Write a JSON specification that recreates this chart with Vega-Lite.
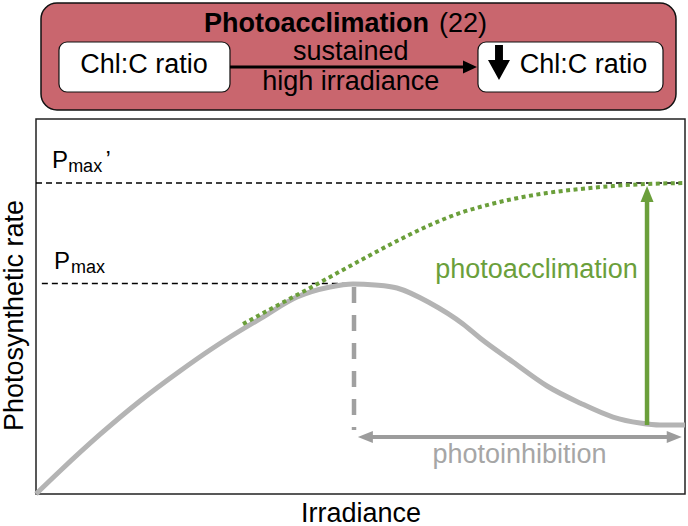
{
  "$schema": "https://vega.github.io/schema/vega-lite/v6.json",
  "width": 649,
  "height": 375,
  "autosize": {"type": "none"},
  "padding": {"left": 36, "top": 119, "right": 3, "bottom": 32},
  "background": "white",
  "config": {
    "view": {"stroke": "#222222", "strokeWidth": 1.5},
    "font": "Liberation Sans"
  },
  "datasets": {
    "frame": [{"x": 0.77, "x2": 98.61, "y": 130.93, "y2": 102.4}],
    "boxes": [
      {"x": 3.54, "x2": 29.89, "y": 120.53, "y2": 107.2},
      {"x": 68.1, "x2": 96.61, "y": 120.53, "y2": 107.2}
    ],
    "flow": [{"x": 29.89, "x2": 66.3, "y": 113.87}],
    "flowHead": [{"x": 67.95, "y": 113.87}],
    "down": [{"x": 71.34, "y": 115.07}],
    "titleBold": [{"x": 60.55, "y": 123.2, "text": "Photoacclimation"}],
    "titleRef": [{"x": 62.1, "y": 123.2, "text": "(22)"}],
    "condition": [
      {"x": 48.5, "y": 115.73, "text": "sustained"},
      {"x": 48.5, "y": 107.73, "text": "high irradiance"}
    ],
    "ratio": [
      {"x": 16.64, "y": 112.27, "text": "Chl:C ratio"},
      {"x": 84.36, "y": 112.27, "text": "Chl:C ratio"}
    ],
    "pmaxLines": [
      {"x": 0, "x2": 100, "y": 82.93},
      {"x": 0.9, "x2": 47.6, "y": 56.13}
    ],
    "pLetters": [
      {"x": 2.47, "y": 86.99, "text": "P"},
      {"x": 2.77, "y": 60.0, "text": "P"}
    ],
    "maxSub": [
      {"x": 4.95, "y": 85.95, "text": "max"},
      {"x": 5.4, "y": 58.93, "text": "max"}
    ],
    "prime": [{"x": 10.7, "y": 86.99, "text": "’"}],
    "baseCurve": [
      {"x": 0, "y": 0},
      {"x": 3.7, "y": 6.13},
      {"x": 9.86, "y": 15.87},
      {"x": 16.02, "y": 24.8},
      {"x": 22.19, "y": 32.8},
      {"x": 26.81, "y": 38.4},
      {"x": 29.89, "y": 41.87},
      {"x": 34.98, "y": 47.2},
      {"x": 40.22, "y": 52.53},
      {"x": 45.3, "y": 55.2},
      {"x": 48.84, "y": 56.0},
      {"x": 52.23, "y": 55.73},
      {"x": 55.62, "y": 54.93},
      {"x": 60.71, "y": 50.93},
      {"x": 65.79, "y": 45.33},
      {"x": 68.41, "y": 41.6},
      {"x": 73.5, "y": 35.2},
      {"x": 78.74, "y": 28.8},
      {"x": 83.82, "y": 24.27},
      {"x": 88.91, "y": 20.53},
      {"x": 93.07, "y": 18.93},
      {"x": 96.15, "y": 18.4},
      {"x": 100, "y": 18.4}
    ],
    "acclimCurve": [
      {"x": 31.9, "y": 45.33},
      {"x": 37.6, "y": 50.67},
      {"x": 42.22, "y": 54.93},
      {"x": 45.3, "y": 57.87},
      {"x": 50.39, "y": 62.67},
      {"x": 55.62, "y": 67.47},
      {"x": 60.71, "y": 71.73},
      {"x": 65.79, "y": 75.2},
      {"x": 68.41, "y": 76.53},
      {"x": 73.5, "y": 78.67},
      {"x": 78.74, "y": 80.27},
      {"x": 83.82, "y": 81.33},
      {"x": 88.91, "y": 82.13},
      {"x": 94.15, "y": 82.67},
      {"x": 100, "y": 82.93}
    ],
    "peakDrop": [{"x": 49.0, "y": 55.2, "y2": 17.07}],
    "inhibShaft": [{"x": 51.0, "x2": 98.0, "y": 15.2}],
    "inhibHeadL": [{"x": 49.6, "y": 15.2}],
    "inhibHeadR": [{"x": 99.5, "y": 15.2}],
    "acclimShaft": [{"x": 94.15, "y": 18.4, "y2": 79.0}],
    "acclimHead": [{"x": 94.15, "y": 82.13}],
    "acclimLabel": [{"x": 77.13, "y": 57.6, "text": "photoacclimation"}],
    "inhibLabel": [{"x": 74.5, "y": 8.27, "text": "photoinhibition"}]
  },
  "encoding": {
    "x": {
      "field": "x",
      "type": "quantitative",
      "scale": {"domain": [0, 100], "nice": false, "zero": false},
      "axis": {
        "title": "Irradiance",
        "domain": false, "ticks": false, "labels": false, "grid": false,
        "titleFont": "Liberation Sans", "titleFontSize": 27, "titleFontWeight": "normal",
        "titleColor": "black", "titlePadding": 6
      }
    },
    "y": {
      "field": "y",
      "type": "quantitative",
      "scale": {"domain": [0, 100], "nice": false, "zero": false},
      "axis": {
        "title": "Photosynthetic rate",
        "domain": false, "ticks": false, "labels": false, "grid": false,
        "titleFont": "Liberation Sans", "titleFontSize": 27, "titleFontWeight": "normal",
        "titleColor": "black", "titlePadding": 8, "titleY": 196
      }
    }
  },
  "layer": [
    {
      "data": {"name": "frame"},
      "mark": {"type": "rect", "fill": "#c9666e", "stroke": "#111111", "strokeWidth": 1.5, "cornerRadius": 16},
      "encoding": {"x2": {"field": "x2"}, "y2": {"field": "y2"}}
    },
    {
      "data": {"name": "boxes"},
      "mark": {"type": "rect", "fill": "white", "stroke": "#111111", "strokeWidth": 1.2, "cornerRadius": 8},
      "encoding": {"x2": {"field": "x2"}, "y2": {"field": "y2"}}
    },
    {
      "data": {"name": "flow"},
      "mark": {"type": "rule", "color": "black", "strokeWidth": 3},
      "encoding": {"x2": {"field": "x2"}}
    },
    {
      "data": {"name": "flowHead"},
      "mark": {"type": "point", "shape": "M0,0 L-2.8,-1.3 L-2.8,1.3 Z", "size": 100, "filled": true, "color": "black", "opacity": 1}
    },
    {
      "data": {"name": "down"},
      "mark": {"type": "point", "shape": "M-0.36,-1.59 L0.36,-1.59 L0.36,-0.23 L1,-0.23 L0,1.59 L-1,-0.23 L-0.36,-0.23 Z", "size": 484, "filled": true, "color": "black", "opacity": 1}
    },
    {
      "data": {"name": "titleBold"},
      "mark": {"type": "text", "font": "Liberation Sans", "fontSize": 27, "fontWeight": "bold", "align": "right", "baseline": "alphabetic", "color": "black"},
      "encoding": {"text": {"field": "text"}}
    },
    {
      "data": {"name": "titleRef"},
      "mark": {"type": "text", "font": "Liberation Sans", "fontSize": 27, "align": "left", "baseline": "alphabetic", "color": "black"},
      "encoding": {"text": {"field": "text"}}
    },
    {
      "data": {"name": "condition"},
      "mark": {"type": "text", "font": "Liberation Sans", "fontSize": 27, "align": "center", "baseline": "alphabetic", "color": "black"},
      "encoding": {"text": {"field": "text"}}
    },
    {
      "data": {"name": "ratio"},
      "mark": {"type": "text", "font": "Liberation Sans", "fontSize": 27, "align": "center", "baseline": "alphabetic", "color": "black"},
      "encoding": {"text": {"field": "text"}}
    },
    {
      "data": {"name": "pmaxLines"},
      "mark": {"type": "rule", "color": "black", "strokeWidth": 1.3, "strokeDash": [6, 4]},
      "encoding": {"x2": {"field": "x2"}}
    },
    {
      "data": {"name": "pLetters"},
      "mark": {"type": "text", "font": "Liberation Sans", "fontSize": 24, "align": "left", "baseline": "alphabetic", "color": "black"},
      "encoding": {"text": {"field": "text"}}
    },
    {
      "data": {"name": "maxSub"},
      "mark": {"type": "text", "font": "Liberation Sans", "fontSize": 18, "align": "left", "baseline": "alphabetic", "color": "black"},
      "encoding": {"text": {"field": "text"}}
    },
    {
      "data": {"name": "prime"},
      "mark": {"type": "text", "font": "Liberation Sans", "fontSize": 24, "align": "left", "baseline": "alphabetic", "color": "black"},
      "encoding": {"text": {"field": "text"}}
    },
    {
      "data": {"name": "peakDrop"},
      "mark": {"type": "rule", "color": "#a0a0a0", "strokeWidth": 4.5, "strokeDash": [16, 12]},
      "encoding": {"y2": {"field": "y2"}}
    },
    {
      "data": {"name": "baseCurve"},
      "mark": {"type": "line", "color": "#b4b4b4", "strokeWidth": 5, "interpolate": "monotone"}
    },
    {
      "data": {"name": "acclimCurve"},
      "mark": {"type": "line", "color": "#6b9f3b", "strokeWidth": 4, "strokeDash": [4, 3.5], "interpolate": "monotone"}
    },
    {
      "data": {"name": "inhibShaft"},
      "mark": {"type": "rule", "color": "#9c9c9c", "strokeWidth": 4},
      "encoding": {"x2": {"field": "x2"}}
    },
    {
      "data": {"name": "inhibHeadL"},
      "mark": {"type": "point", "shape": "M0,0 L3,-1.2 L3,1.2 Z", "size": 100, "filled": true, "color": "#9c9c9c", "opacity": 1}
    },
    {
      "data": {"name": "inhibHeadR"},
      "mark": {"type": "point", "shape": "M0,0 L-3,-1.2 L-3,1.2 Z", "size": 100, "filled": true, "color": "#9c9c9c", "opacity": 1}
    },
    {
      "data": {"name": "acclimShaft"},
      "mark": {"type": "rule", "color": "#6b9f3b", "strokeWidth": 4.5},
      "encoding": {"y2": {"field": "y2"}}
    },
    {
      "data": {"name": "acclimHead"},
      "mark": {"type": "point", "shape": "M0,0 L-1.3,3.2 L1.3,3.2 Z", "size": 100, "filled": true, "color": "#6b9f3b", "opacity": 1}
    },
    {
      "data": {"name": "acclimLabel"},
      "mark": {"type": "text", "font": "Liberation Sans", "fontSize": 27, "align": "center", "baseline": "alphabetic", "color": "#6b9f3b"},
      "encoding": {"text": {"field": "text"}}
    },
    {
      "data": {"name": "inhibLabel"},
      "mark": {"type": "text", "font": "Liberation Sans", "fontSize": 27, "align": "center", "baseline": "alphabetic", "color": "#a6a6a6"},
      "encoding": {"text": {"field": "text"}}
    }
  ]
}
